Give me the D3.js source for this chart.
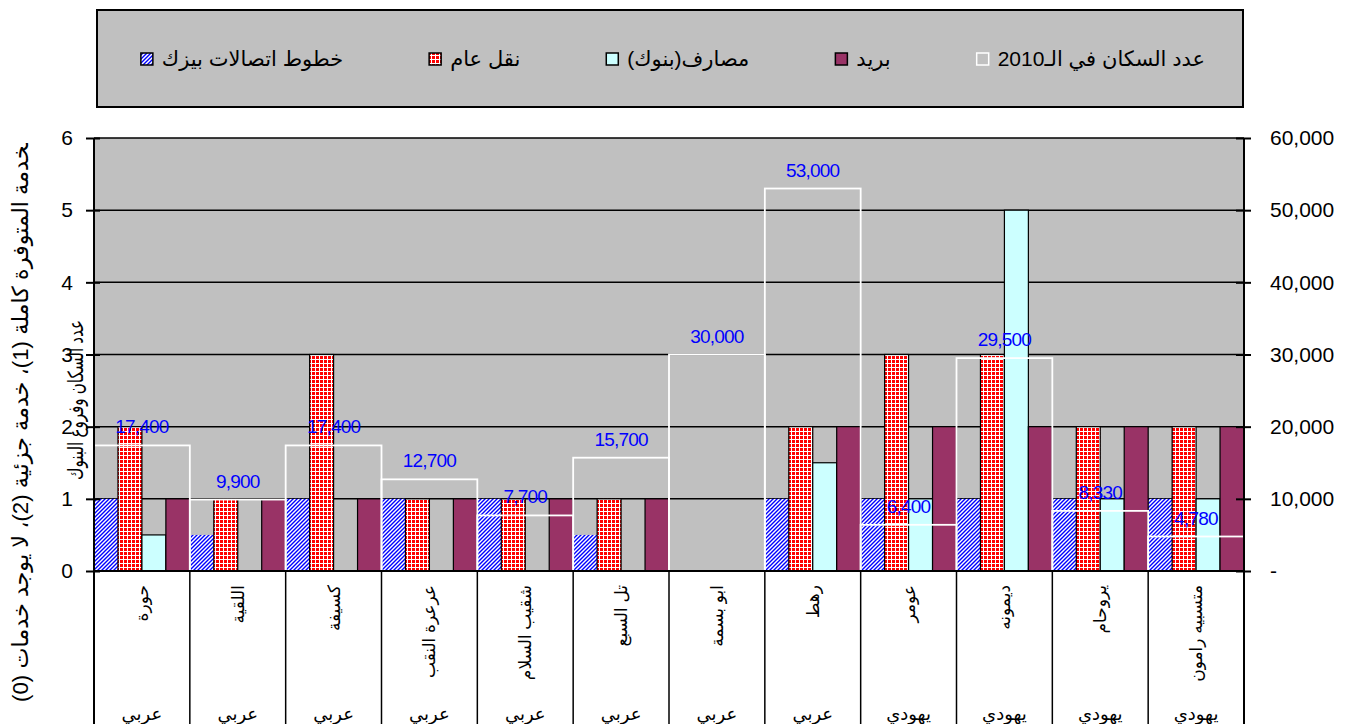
<!DOCTYPE html>
<html>
<head>
<meta charset="utf-8">
<script src="https://cdnjs.cloudflare.com/ajax/libs/d3/7.8.5/d3.min.js"></script>
<style>
  body { margin: 0; background: #fff; }
  svg text { font-family: 'Liberation Sans', Arial, 'DejaVu Sans', sans-serif; }
</style>
</head>
<body>
<div id="chart"></div>
<script>
var towns = ['حورة', 'اللقية', 'كسيفة', 'عرعرة النقب', 'شقيب السلام', 'تل السبع',
  'ابو بسمة', 'رهط', 'عومر', 'ديمونه', 'يروحام', 'متسبيه رامون'];
var sectors = ['عربي', 'عربي', 'عربي', 'عربي', 'عربي', 'عربي',
  'عربي', 'عربي', 'يهودي', 'يهودي', 'يهودي', 'يهودي'];
var bezeq = [1, 0.5, 1, 1, 1, 0.5, 0, 1, 1, 1, 1, 1];
var transport = [2, 1, 3, 1, 1, 1, 0, 2, 3, 3, 2, 2];
var banks = [0.5, 0, 0, 0, 0, 0, 0, 1.5, 1, 5, 1, 1];
var post = [1, 1, 1, 1, 1, 1, 0, 2, 2, 2, 2, 2];
var population = [17400, 9900, 17400, 12700, 7700, 15700, 30000, 53000, 6400, 29500, 8330, 4780];
var leftTicks = [0, 1, 2, 3, 4, 5, 6];
var rightTicks = [0, 10000, 20000, 30000, 40000, 50000, 60000];
var seriesNames = ['خطوط اتصالات بيزك', 'نقل عام', 'مصارف(بنوك)', 'بريد'];
var populationName = 'عدد السكان في الـ2010';
var leftTitle = 'الخدمة المتوفرة كاملة (1)، خدمة جزئية (2)، لا يوجد خدمات (0)';
var rightTitle = 'عدد السكان وفروع البنوك';

var width = 1346;
var height = 724;
var plotLeft = 94, plotRight = 1244, plotTop = 138, plotBottom = 571;

var svg = d3.select('#chart')
  .append('svg')
  .attr('width', width)
  .attr('height', height);

// patterns for the two textured series
var defs = svg.append('defs');
var hatch = defs.append('pattern')
  .attr('id', 'hatchBlue')
  .attr('patternUnits', 'userSpaceOnUse')
  .attr('width', 4)
  .attr('height', 4);
hatch.append('rect').attr('width', 4).attr('height', 4).attr('fill', '#fff');
hatch.append('path')
  .attr('d', 'M-1,1 l2,-2 M0,4 l4,-4 M3,5 l2,-2')
  .attr('stroke', '#0000ff')
  .attr('stroke-width', 1.4);
var checker = defs.append('pattern')
  .attr('id', 'checkRed')
  .attr('patternUnits', 'userSpaceOnUse')
  .attr('width', 4)
  .attr('height', 4);
checker.append('rect').attr('width', 4).attr('height', 4).attr('fill', '#ff0000');
checker.append('path')
  .attr('d', 'M3.5,0 V4 M0,3.5 H4')
  .attr('stroke', '#fff')
  .attr('stroke-width', 1);
defs.append('clipPath').attr('id', 'titleClip')
  .append('rect').attr('x', 0).attr('y', 143).attr('width', 60).attr('height', 600);

var fills = ['url(#hatchBlue)', 'url(#checkRed)', '#ccffff', '#993366'];
var strokes = ['none', '#000', '#000', '#000'];
var series = [bezeq, transport, banks, post];

var x = d3.scaleBand().domain(towns).range([plotLeft, plotRight]).padding(0);
var xs = d3.scaleBand().domain(d3.range(series.length)).range([0, x.bandwidth()]).padding(0);
var yL = d3.scaleLinear().domain([0, 6]).range([plotBottom, plotTop]);
var yR = d3.scaleLinear().domain([0, 60000]).range([plotBottom, plotTop]);

// legend
var legend = svg.append('g');
legend.append('rect')
  .attr('x', 97).attr('y', 10)
  .attr('width', 1146).attr('height', 97)
  .attr('fill', '#c0c0c0')
  .attr('stroke', '#000')
  .attr('stroke-width', 2);
var legendItems = seriesNames.map(function(n, i) {
  return { name: n, fill: fills[i], stroke: '#000' };
});
legendItems.push({ name: populationName, fill: 'none', stroke: '#fff' });
var itemGroups = legend.selectAll('g.item')
  .data(legendItems)
  .enter()
  .append('g')
  .attr('class', 'item');
itemGroups.append('rect')
  .attr('width', 12).attr('height', 12)
  .attr('fill', function(d) { return d.fill; })
  .attr('stroke', function(d) { return d.stroke; })
  .attr('stroke-width', 1.5);
itemGroups.append('text')
  .attr('direction', 'rtl')
  .attr('text-anchor', 'middle')
  .attr('font-size', 21)
  .attr('dy', '0.35em')
  .text(function(d) { return d.name; });
var widths = [];
itemGroups.select('text').each(function() { widths.push(this.getComputedTextLength()); });
var gapItem = 86, gapSym = 9, sym = 12;
var total = d3.sum(widths) + widths.length * (sym + gapSym) + (widths.length - 1) * gapItem;
var cursor = 673 - total / 2;
itemGroups.each(function(d, i) {
  var g = d3.select(this);
  g.select('rect').attr('x', cursor).attr('y', 53);
  g.select('text').attr('x', cursor + sym + gapSym + widths[i] / 2).attr('y', 59);
  cursor += sym + gapSym + widths[i] + gapItem;
});

// plot area and gridlines
svg.append('rect')
  .attr('x', plotLeft).attr('y', plotTop)
  .attr('width', plotRight - plotLeft).attr('height', plotBottom - plotTop)
  .attr('fill', '#c0c0c0');
svg.append('g').selectAll('line')
  .data(leftTicks.slice(1))
  .enter()
  .append('line')
  .attr('x1', plotLeft).attr('x2', plotRight)
  .attr('y1', function(d) { return yL(d); })
  .attr('y2', function(d) { return yL(d); })
  .attr('stroke', '#000')
  .attr('stroke-width', 1.5);

// service bars
series.forEach(function(values, si) {
  svg.append('g').selectAll('rect')
    .data(values.map(function(v, i) { return { town: towns[i], value: v }; })
      .filter(function(d) { return d.value > 0; }))
    .enter()
    .append('rect')
    .attr('x', function(d) { return x(d.town) + xs(si); })
    .attr('width', xs.bandwidth())
    .attr('y', function(d) { return yL(d.value); })
    .attr('height', function(d) { return plotBottom - yL(d.value); })
    .attr('fill', fills[si])
    .attr('stroke', strokes[si])
    .attr('stroke-width', 1.2);
});

// population outlines on the right axis
var popData = population.map(function(p, i) { return { town: towns[i], value: p }; });
svg.append('g').selectAll('rect')
  .data(popData)
  .enter()
  .append('rect')
  .attr('x', function(d) { return x(d.town); })
  .attr('width', x.bandwidth())
  .attr('y', function(d) { return yR(d.value); })
  .attr('height', function(d) { return plotBottom - yR(d.value); })
  .attr('fill', 'none')
  .attr('stroke', '#fff')
  .attr('stroke-width', 1.8);
svg.append('g').selectAll('text')
  .data(popData)
  .enter()
  .append('text')
  .attr('x', function(d) { return x(d.town) + x.bandwidth() / 2; })
  .attr('y', function(d) { return yR(d.value) - 12; })
  .attr('text-anchor', 'middle')
  .attr('font-size', 19)
  .attr('letter-spacing', -0.8)
  .attr('fill', '#0000ff')
  .text(function(d) { return d3.format(',')(d.value); });

// axes
var leftAxis = svg.append('g')
  .attr('transform', 'translate(' + plotLeft + ',0)')
  .call(d3.axisLeft(yL).tickValues(leftTicks).tickSize(8).tickPadding(13)
    .tickFormat(d3.format('d')));
leftAxis.select('.domain').remove();
leftAxis.selectAll('line').attr('x1', 6).attr('stroke-width', 2);
leftAxis.selectAll('text').attr('font-size', 21).attr('font-family', null).attr('fill', '#000');

var rightAxis = svg.append('g')
  .attr('transform', 'translate(' + plotRight + ',0)')
  .call(d3.axisRight(yR).tickValues(rightTicks).tickSize(7).tickPadding(19)
    .tickFormat(function(d) { return d === 0 ? '-' : d3.format(',')(d); }));
rightAxis.select('.domain').remove();
rightAxis.selectAll('line').attr('x1', -8).attr('stroke-width', 2);
rightAxis.selectAll('text').attr('font-size', 21).attr('font-family', null).attr('fill', '#000');

// category table under the plot
var bounds = towns.map(function(t) { return x(t); }).concat([plotRight]);
svg.append('g').selectAll('line')
  .data(bounds)
  .enter()
  .append('line')
  .attr('x1', function(d) { return d; })
  .attr('x2', function(d) { return d; })
  .attr('y1', function(d, i) { return i === 0 || i === bounds.length - 1 ? plotTop : plotBottom; })
  .attr('y2', height)
  .attr('stroke', '#000')
  .attr('stroke-width', function(d, i) { return i === 0 || i === bounds.length - 1 ? 2 : 1.5; });
svg.append('line')
  .attr('x1', plotLeft).attr('x2', plotRight)
  .attr('y1', plotBottom).attr('y2', plotBottom)
  .attr('stroke', '#000')
  .attr('stroke-width', 2);

var townLabels = svg.append('g').selectAll('text')
  .data(towns)
  .enter()
  .append('text')
  .attr('direction', 'rtl')
  .attr('text-anchor', 'middle')
  .attr('font-size', 17)
  .attr('dy', '0.35em')
  .text(function(d) { return d; });
townLabels.each(function(d) {
  var w = this.getComputedTextLength();
  d3.select(this).attr('transform', 'translate(' + (x(d) + x.bandwidth() / 2) + ',' + (585 + w / 2) + ') rotate(-90)');
});

svg.append('g').selectAll('text')
  .data(sectors)
  .enter()
  .append('text')
  .attr('direction', 'rtl')
  .attr('text-anchor', 'middle')
  .attr('font-size', 18)
  .attr('x', function(d, i) { return x(towns[i]) + x.bandwidth() / 2; })
  .attr('y', 720)
  .text(function(d) { return d; });

// axis titles
var lt = svg.append('g').attr('clip-path', 'url(#titleClip)')
  .append('text')
  .attr('direction', 'rtl')
  .attr('text-anchor', 'middle')
  .attr('font-size', 22.3)
  .attr('dy', '0.35em')
  .text(leftTitle);
var ltw = lt.node().getComputedTextLength();
lt.attr('transform', 'translate(20,' + (702 - ltw / 2) + ') rotate(-90)');

svg.append('text')
  .attr('direction', 'rtl')
  .attr('text-anchor', 'middle')
  .attr('font-size', 21)
  .attr('dy', '0.35em')
  .attr('textLength', 160)
  .attr('lengthAdjust', 'spacingAndGlyphs')
  .attr('transform', 'translate(76,400) rotate(-90)')
  .text(rightTitle);
</script>
</body>
</html>
